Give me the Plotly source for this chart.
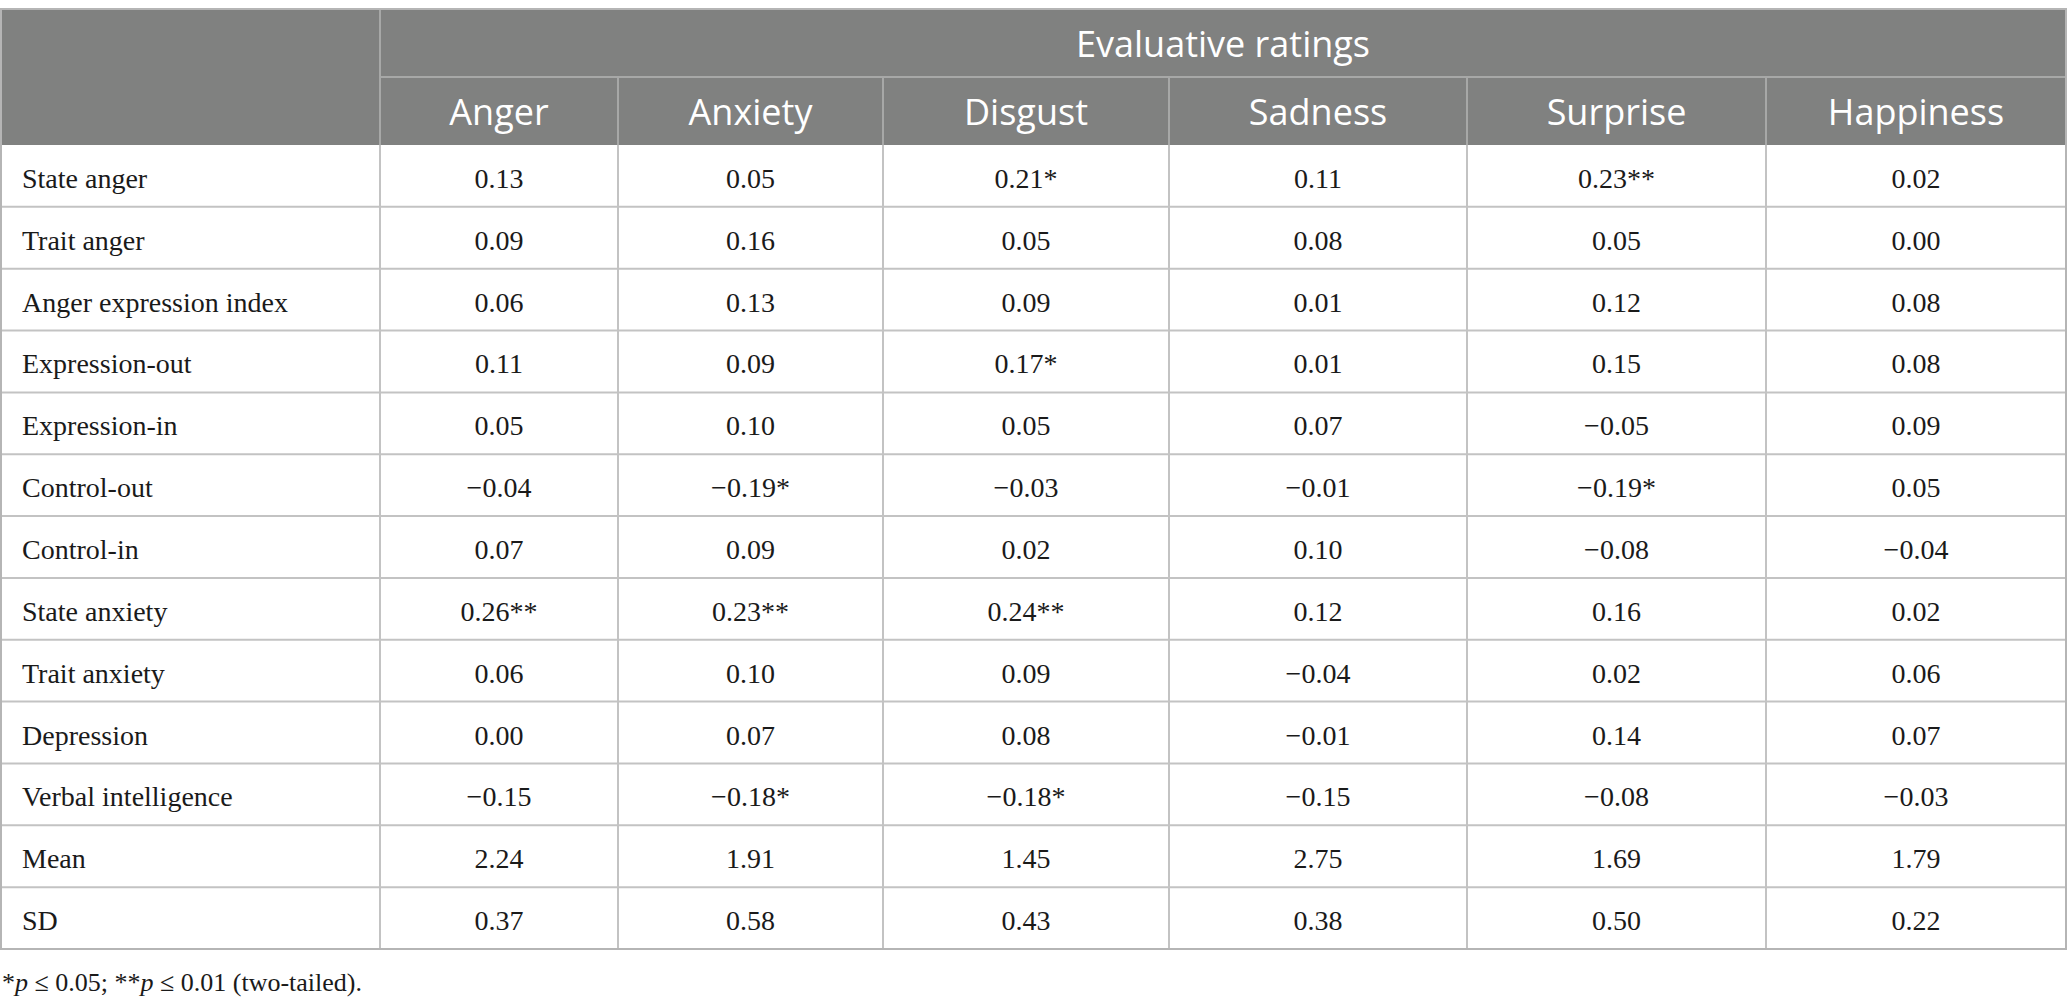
import plotly.graph_objects as go

# ---------------- data ----------------
group_label = "Evaluative ratings"
column_labels = ["Anger", "Anxiety", "Disgust", "Sadness", "Surprise", "Happiness"]
row_labels = [
    "State anger", "Trait anger", "Anger expression index", "Expression-out",
    "Expression-in", "Control-out", "Control-in", "State anxiety",
    "Trait anxiety", "Depression", "Verbal intelligence", "Mean", "SD",
]

anger = [0.13, 0.09, 0.06, 0.11, 0.05, -0.04, 0.07, 0.26, 0.06, 0.00, -0.15, 2.24, 0.37]
anger_sig = ["", "", "", "", "", "", "", "**", "", "", "", "", ""]
anxiety = [0.05, 0.16, 0.13, 0.09, 0.10, -0.19, 0.09, 0.23, 0.10, 0.07, -0.18, 1.91, 0.58]
anxiety_sig = ["", "", "", "", "", "*", "", "**", "", "", "*", "", ""]
disgust = [0.21, 0.05, 0.09, 0.17, 0.05, -0.03, 0.02, 0.24, 0.09, 0.08, -0.18, 1.45, 0.43]
disgust_sig = ["*", "", "", "*", "", "", "", "**", "", "", "*", "", ""]
sadness = [0.11, 0.08, 0.01, 0.01, 0.07, -0.01, 0.10, 0.12, -0.04, -0.01, -0.15, 2.75, 0.38]
sadness_sig = ["", "", "", "", "", "", "", "", "", "", "", "", ""]
surprise = [0.23, 0.05, 0.12, 0.15, -0.05, -0.19, -0.08, 0.16, 0.02, 0.14, -0.08, 1.69, 0.50]
surprise_sig = ["**", "", "", "", "", "*", "", "", "", "", "", "", ""]
happiness = [0.02, 0.00, 0.08, 0.08, 0.09, 0.05, -0.04, 0.02, 0.06, 0.07, -0.03, 1.79, 0.22]
happiness_sig = ["", "", "", "", "", "", "", "", "", "", "", "", ""]

footnote = "*<i>p</i> ≤ 0.05; **<i>p</i> ≤ 0.01 (two-tailed)."

columns = [anger, anxiety, disgust, sadness, surprise, happiness]
sigs = [anger_sig, anxiety_sig, disgust_sig, sadness_sig, surprise_sig, happiness_sig]

# ---------------- geometry / style ----------------
W, H = 2067, 1008
col_widths = [380, 238, 265, 286, 298, 299, 300]
table_top, header_split, header_bottom, table_bottom = 9, 77, 145, 949
label_pad = 22
text_dy = 5          # baseline nudge of cell texts
footnote_x = 2
footnote_y = 984

header_fill = "#808180"
header_line = "#a7a8a7"
body_line = "#c3c3c3"
outer_line = "#b5b5b5"
text_color = "#1a1a1a"
sans = "Open Sans, Noto Sans, sans-serif"
serif = "Liberation Serif, Times New Roman, serif"

edges = [0]
for w in col_widths:
    edges.append(edges[-1] + w)
n_rows = len(row_labels)
row_h = (table_bottom - header_bottom) / n_rows
row_edges = [header_bottom + i * row_h for i in range(n_rows + 1)]
row_centers = [(row_edges[i] + row_edges[i + 1]) / 2 + text_dy for i in range(n_rows)]
col_centers = [(edges[i] + edges[i + 1]) / 2 for i in range(len(edges) - 1)]


def fmt(v, s):
    txt = f"{abs(v):.2f}"
    if v < 0:
        txt = "\u2212" + txt
    return txt + s


fig = go.Figure()

# header background
fig.add_shape(type="rect", x0=edges[0], x1=edges[-1], y0=table_top, y1=header_bottom,
              fillcolor=header_fill, line=dict(width=0), layer="below")

# header lines
fig.add_shape(type="line", x0=edges[1], x1=edges[-1], y0=header_split, y1=header_split,
              line=dict(color=header_line, width=2))
fig.add_shape(type="line", x0=edges[1], x1=edges[1], y0=table_top, y1=header_bottom,
              line=dict(color=header_line, width=2))
for x in edges[2:-1]:
    fig.add_shape(type="line", x0=x, x1=x, y0=header_split, y1=header_bottom,
                  line=dict(color=header_line, width=2))

# body lines
for y in row_edges[1:-1]:
    fig.add_shape(type="line", x0=edges[0], x1=edges[-1], y0=y, y1=y,
                  line=dict(color=body_line, width=2))
for x in edges[1:-1]:
    fig.add_shape(type="line", x0=x, x1=x, y0=header_bottom, y1=table_bottom,
                  line=dict(color=body_line, width=2))

# outer border
fig.add_shape(type="rect", x0=edges[0] + 1, x1=edges[-1], y0=table_top, y1=table_bottom,
              line=dict(color=outer_line, width=2), fillcolor="rgba(0,0,0,0)")

# header texts
fig.add_trace(go.Scatter(
    x=[(edges[1] + edges[-1]) / 2], y=[(table_top + header_split) / 2 + text_dy],
    mode="text", text=[group_label], textposition="middle center",
    textfont=dict(family=sans, size=36, color="white"),
    hoverinfo="skip", showlegend=False, cliponaxis=False))
fig.add_trace(go.Scatter(
    x=col_centers[1:], y=[(header_split + header_bottom) / 2 + text_dy] * len(column_labels),
    mode="text", text=column_labels, textposition="middle center",
    textfont=dict(family=sans, size=36, color="white"),
    hoverinfo="skip", showlegend=False, cliponaxis=False))

# row labels
fig.add_trace(go.Scatter(
    x=[edges[0] + label_pad] * n_rows, y=row_centers,
    mode="text", text=row_labels, textposition="middle right",
    textfont=dict(family=serif, size=28, color=text_color),
    hoverinfo="skip", showlegend=False, cliponaxis=False))

# values
for j, (vals, sg) in enumerate(zip(columns, sigs)):
    fig.add_trace(go.Scatter(
        x=[col_centers[j + 1]] * n_rows, y=row_centers,
        mode="text", text=[fmt(v, s) for v, s in zip(vals, sg)],
        textposition="middle center",
        textfont=dict(family=serif, size=28, color=text_color),
        hoverinfo="skip", showlegend=False, cliponaxis=False))

# footnote
fig.add_trace(go.Scatter(
    x=[footnote_x], y=[footnote_y], mode="text", text=[footnote],
    textposition="middle right",
    textfont=dict(family=serif, size=26, color=text_color),
    hoverinfo="skip", showlegend=False, cliponaxis=False))

fig.update_layout(
    width=W, height=H,
    margin=dict(l=0, r=0, t=0, b=0),
    paper_bgcolor="white", plot_bgcolor="white",
    xaxis=dict(range=[0, W], visible=False, fixedrange=True),
    yaxis=dict(range=[H, 0], visible=False, fixedrange=True),
    showlegend=False,
)

fig.write_html(
    "out.html",
    config={"displayModeBar": False},
    post_script="document.body.style.margin='0';document.body.style.overflow='hidden';",
)
